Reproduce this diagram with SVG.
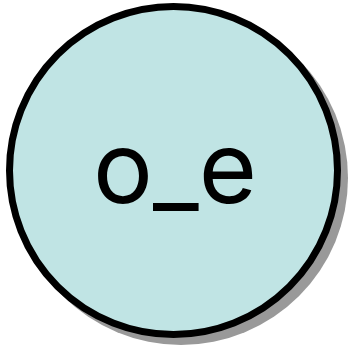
<svg xmlns="http://www.w3.org/2000/svg" width="351" height="351" viewBox="0 0 351 351">
<style>
.shadow{fill:#999999;}
.node{fill:#c0e4e4;stroke:#000;stroke-width:7;}
.label{font-family:Inter,"Liberation Sans",sans-serif;font-size:100px;fill:#000;text-anchor:middle;}
</style>
<g id="node-o_e">
<circle class="shadow" cx="181" cy="178" r="167"/>
<circle class="node" cx="173.5" cy="170.5" r="164"/>
<text class="label" x="175" y="203">o_e</text>
</g>
<g id="connectors"/>
</svg>
